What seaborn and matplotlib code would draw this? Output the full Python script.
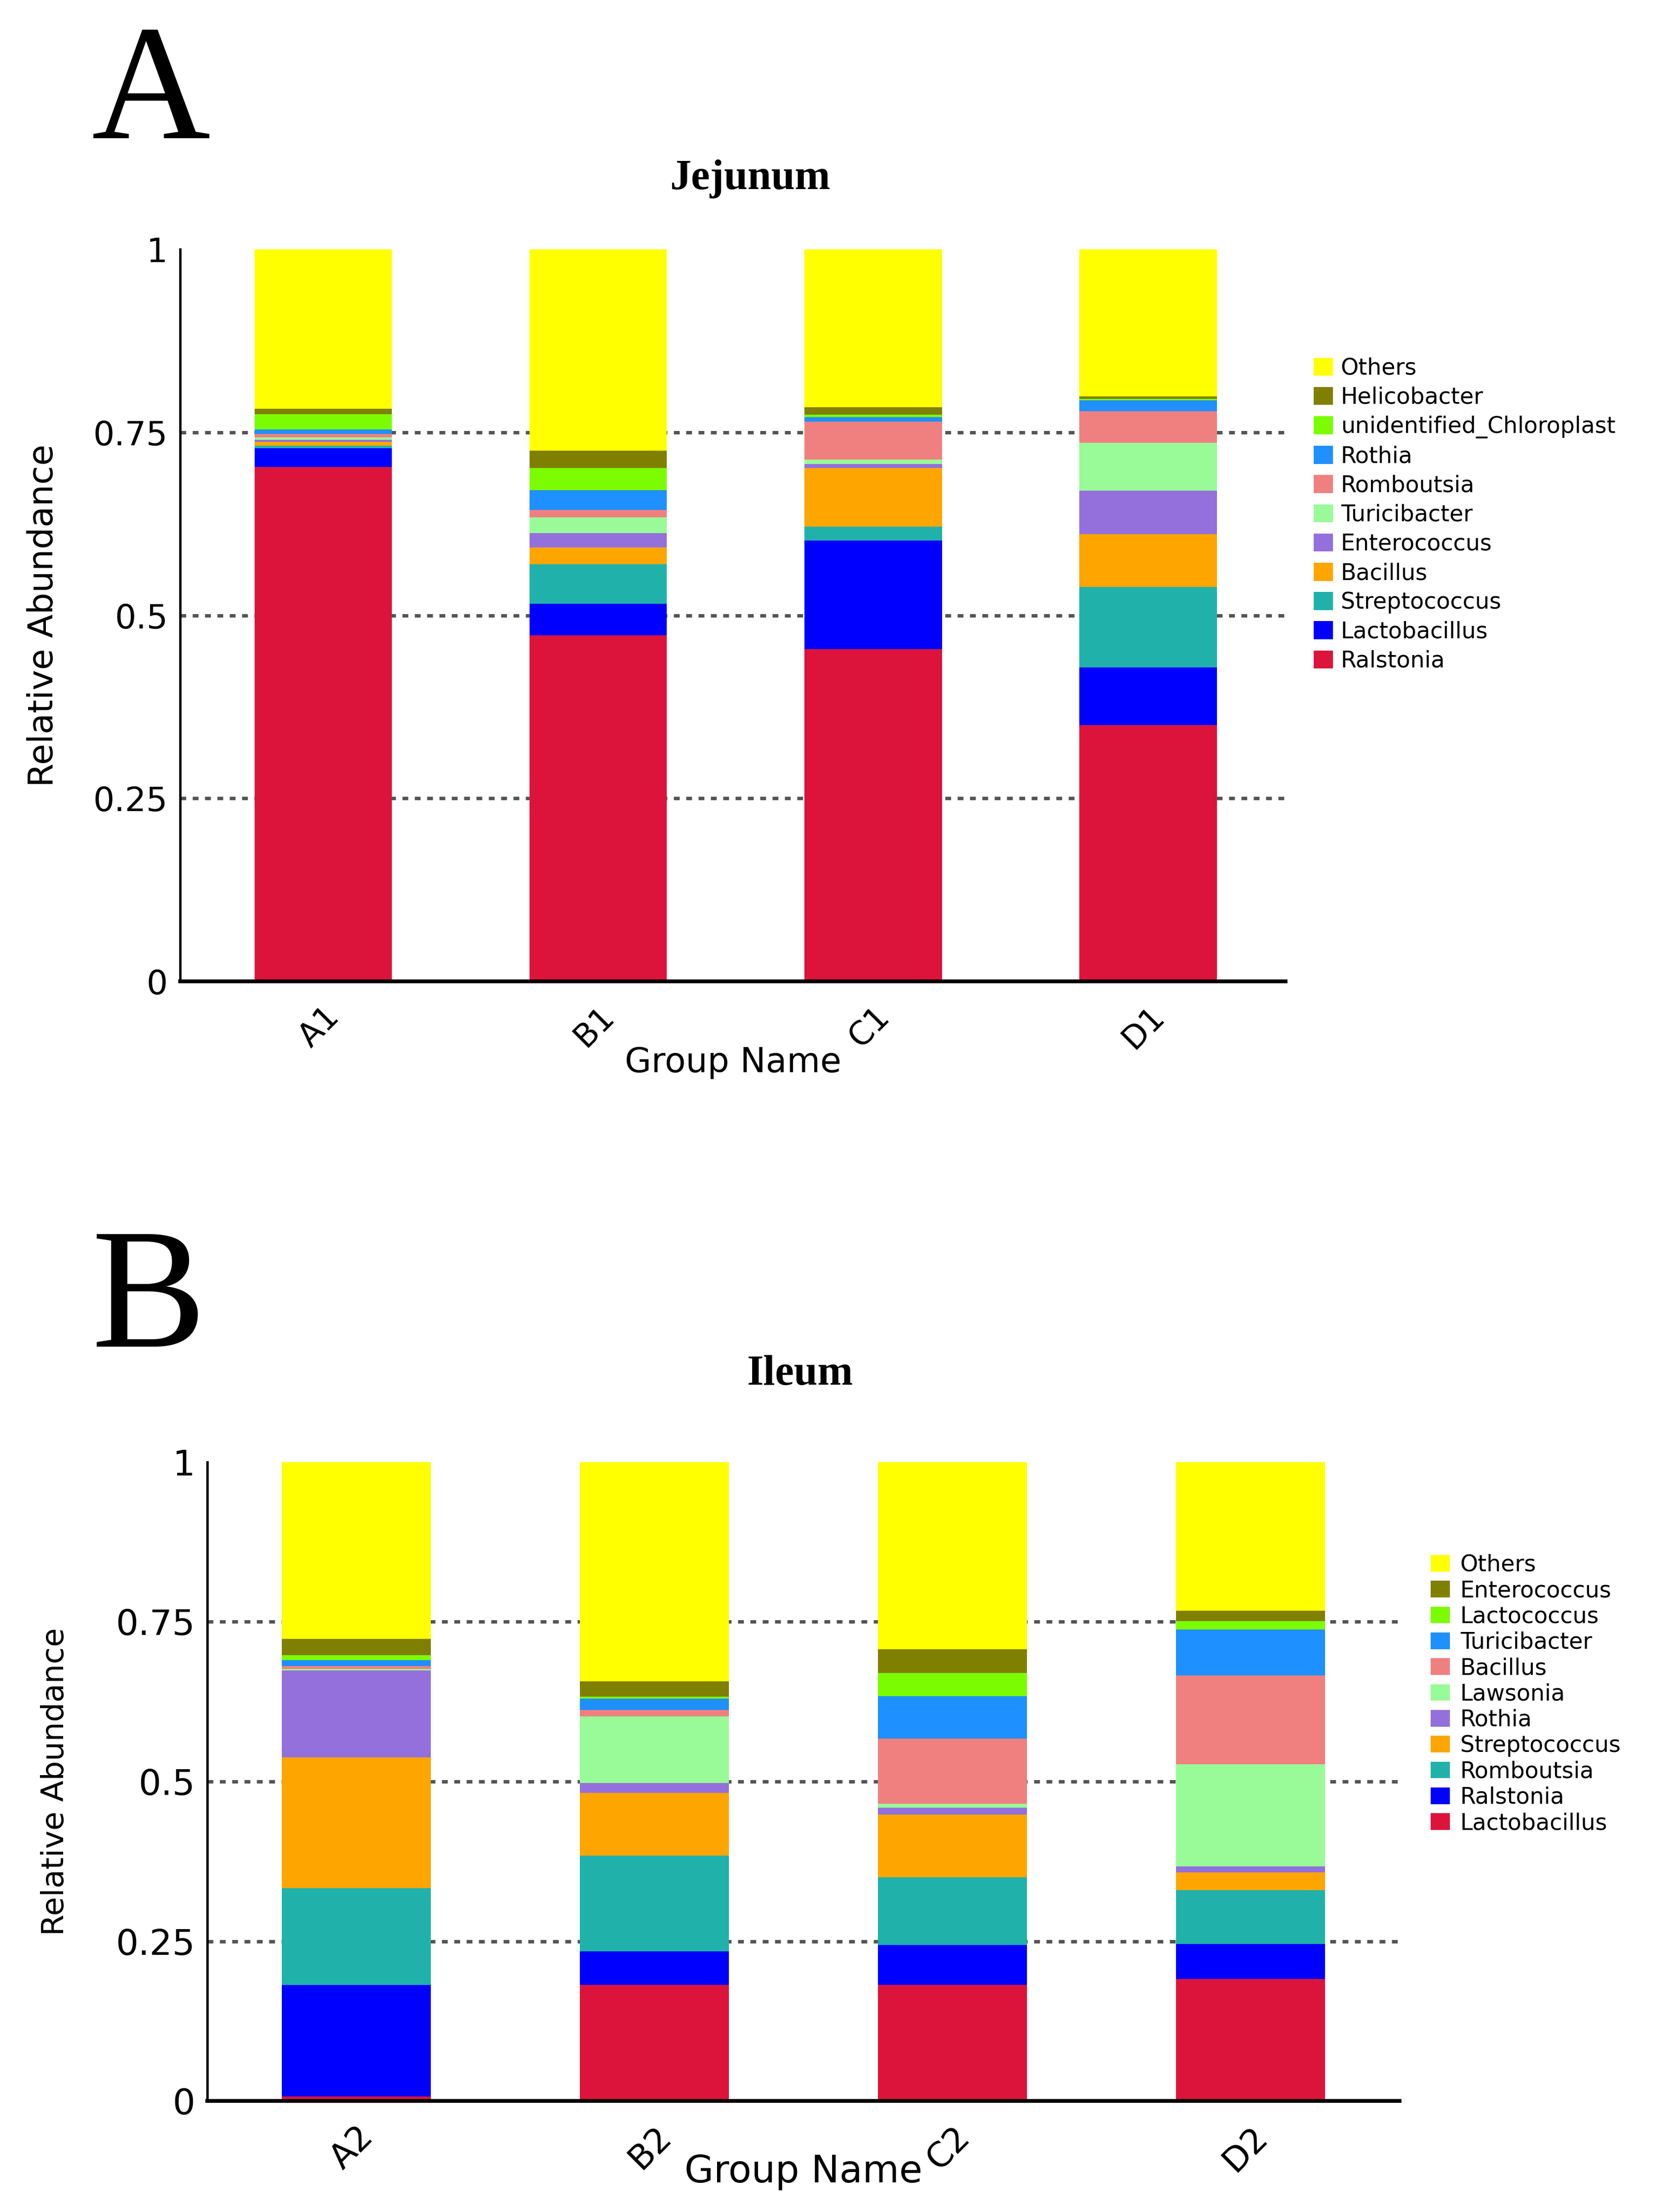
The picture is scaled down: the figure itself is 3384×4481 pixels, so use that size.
import numpy as np
import pandas as pd
import matplotlib
matplotlib.use("Agg")
import matplotlib.pyplot as plt
from matplotlib.patches import Patch
from matplotlib.ticker import FixedLocator
import seaborn as sns

# ---- data (layers listed bottom -> top) ----
groups_a = ["A1", "B1", "C1", "D1"]
taxa_a = ["Ralstonia", "Lactobacillus", "Streptococcus", "Bacillus", "Enterococcus",
          "Turicibacter", "Romboutsia", "Rothia", "unidentified_Chloroplast",
          "Helicobacter", "Others"]
a1 = [0.703, 0.025, 0.004, 0.005, 0.003, 0.003, 0.005, 0.006, 0.021, 0.007, 0.218]
b1 = [0.473, 0.043, 0.054, 0.023, 0.019, 0.022, 0.010, 0.027, 0.030, 0.024, 0.275]
c1 = [0.454, 0.148, 0.019, 0.080, 0.006, 0.006, 0.052, 0.006, 0.003, 0.010, 0.216]
d1 = [0.350, 0.079, 0.110, 0.072, 0.059, 0.066, 0.043, 0.015, 0.002, 0.003, 0.201]

groups_b = ["A2", "B2", "C2", "D2"]
taxa_b = ["Lactobacillus", "Ralstonia", "Romboutsia", "Streptococcus", "Rothia",
          "Lawsonia", "Bacillus", "Turicibacter", "Lactococcus", "Enterococcus",
          "Others"]
a2 = [0.007, 0.175, 0.151, 0.205, 0.136, 0.002, 0.005, 0.009, 0.008, 0.025, 0.277]
b2 = [0.182, 0.052, 0.150, 0.098, 0.016, 0.104, 0.010, 0.018, 0.003, 0.024, 0.343]
c2 = [0.182, 0.062, 0.106, 0.098, 0.011, 0.006, 0.102, 0.067, 0.036, 0.037, 0.293]
d2 = [0.191, 0.055, 0.084, 0.028, 0.009, 0.160, 0.139, 0.072, 0.013, 0.016, 0.233]

# same colour sequence for both panels (bottom -> top)
layer_colors = ["#DC143C", "#0000FF", "#20B2AA", "#FFA500", "#9370DB", "#98FB98",
                "#F08080", "#1E90FF", "#7CFC00", "#808000", "#FFFF00"]

yticks = [0, 0.25, 0.5, 0.75, 1]
ytick_labels = ["0", "0.25", "0.5", "0.75", "1"]


def stacked_panel(ax, groups, taxa, columns, xlim, tick_fs, ylabel_fs, xlabel_fs):
    df = pd.DataFrame(np.array(columns).T, index=taxa, columns=groups)
    cum = df.cumsum()
    # draw from top layer down so lower layers sit on top of the taller bars
    for i in range(len(taxa) - 1, -1, -1):
        long = pd.DataFrame({"group": groups, "value": cum.iloc[i].values})
        sns.barplot(data=long, x="group", y="value", order=groups, ax=ax,
                    color=layer_colors[i], saturation=1, width=0.5,
                    linewidth=0, errorbar=None)

    ax.set_ylim(0, 1)
    ax.set_xlim(*xlim)
    ax.set_yticks(yticks)
    ax.set_yticklabels(ytick_labels, fontsize=tick_fs)
    ax.set_xticks(range(len(groups)))
    ax.set_xticklabels(groups, fontsize=tick_fs - 2, rotation=45, ha="right",
                       rotation_mode="anchor")
    ax.xaxis.set_minor_locator(FixedLocator([xlim[0], 0.5, 1.5, 2.5, 3.5]))
    ax.tick_params(axis="x", which="major", length=0, pad=28)
    ax.tick_params(axis="x", which="minor", length=12, width=4, direction="out")
    ax.tick_params(axis="y", length=12, width=4, direction="out", pad=6)

    ax.set_axisbelow(True)
    ax.yaxis.grid(True, color="#555555", linestyle=(0, (1.7, 1.9)), linewidth=5)
    ax.xaxis.grid(False)
    gl = ax.get_ygridlines()
    gl[0].set_visible(False)
    gl[-1].set_visible(False)
    for s in ["top", "right"]:
        ax.spines[s].set_visible(False)
    ax.spines["left"].set_linewidth(3.5)
    ax.spines["bottom"].set_linewidth(5.5)

    ax.set_ylabel("Relative Abundance", fontsize=ylabel_fs)
    ax.set_xlabel("Group Name", fontsize=xlabel_fs)
    handles = [Patch(facecolor=c, edgecolor="none") for c in layer_colors[::-1]]
    return handles, taxa[::-1]


sns.set_style("white")
plt.rcParams["font.family"] = ["DejaVu Sans"]
plt.rcParams.update({"text.color": "black", "axes.labelcolor": "black",
                     "xtick.color": "black", "ytick.color": "black",
                     "axes.edgecolor": "black"})

fig = plt.figure(figsize=(33.84, 44.81), dpi=100)

# ---- panel A ----
ax_a = fig.add_axes([0.1079, 0.5563, 0.662, 0.331])
h, l = stacked_panel(ax_a, groups_a, taxa_a, [a1, b1, c1, d1], (-0.52, 3.5),
                     49, 50, 50)
ax_a.yaxis.set_label_coords(-0.109, 0.5)
ax_a.xaxis.set_label_coords(0.5, -0.088)
fig.legend(h, l, loc="upper left", bbox_to_anchor=(0.7866, 0.8385),
           frameon=False, fontsize=33, handlelength=0.85, handleheight=0.85,
           handletextpad=0.35, labelspacing=0.31, borderpad=0, borderaxespad=0)

# ---- panel B ----
ax_b = fig.add_axes([0.1241, 0.0502, 0.714, 0.2888])
h, l = stacked_panel(ax_b, groups_b, taxa_b, [a2, b2, c2, d2], (-0.5, 3.5),
                     52, 45, 55)
ax_b.yaxis.set_label_coords(-0.115, 0.5)
ax_b.xaxis.set_label_coords(0.5, -0.083)
fig.legend(h, l, loc="upper left", bbox_to_anchor=(0.8567, 0.2975),
           frameon=False, fontsize=33, handlelength=0.85, handleheight=0.75,
           handletextpad=0.45, labelspacing=0.16, borderpad=0, borderaxespad=0)

# ---- panel letters and titles ----
fig.text(0.055, 0.9375, "A", fontsize=240, family="Liberation Serif",
         ha="left", va="baseline")
fig.text(0.055, 0.3914, "B", fontsize=250, family="Liberation Serif",
         ha="left", va="baseline")
fig.text(0.449, 0.9145, "Jejunum", fontsize=62, family="Liberation Serif",
         fontweight="bold", ha="center", va="baseline")
fig.text(0.479, 0.374, "Ileum", fontsize=62, family="Liberation Serif",
         fontweight="bold", ha="center", va="baseline")

fig.savefig("out.png", dpi=100)
